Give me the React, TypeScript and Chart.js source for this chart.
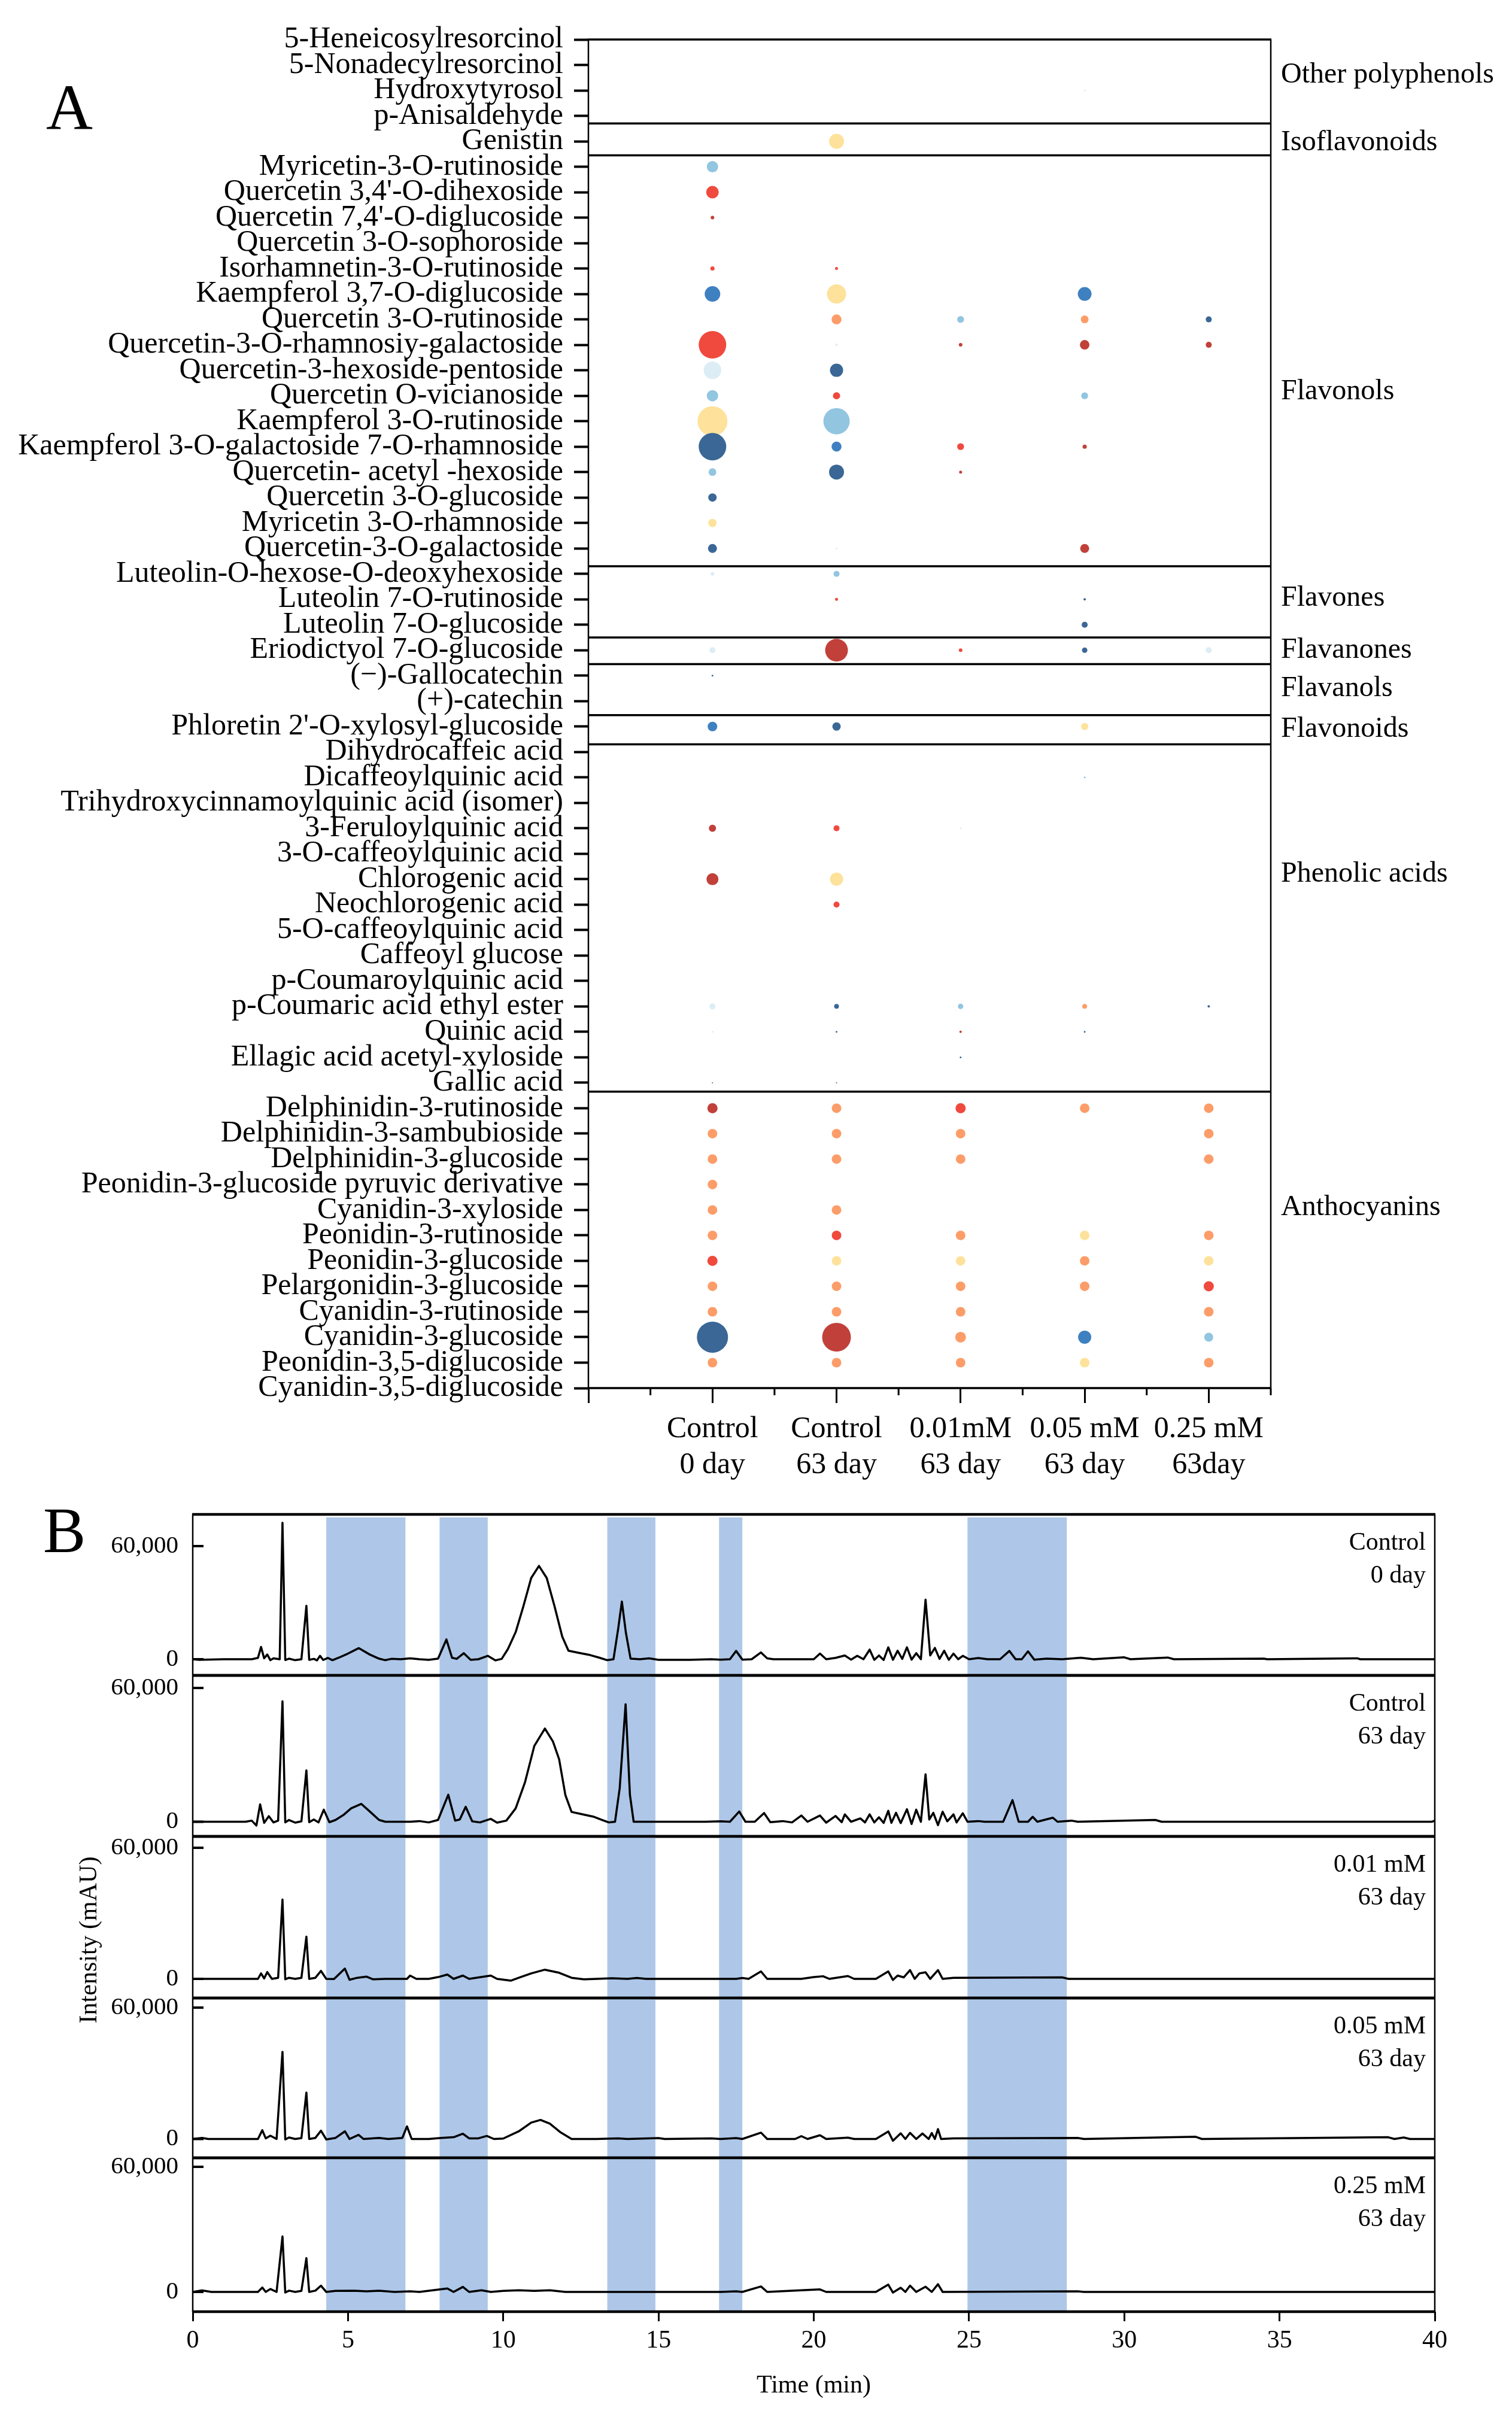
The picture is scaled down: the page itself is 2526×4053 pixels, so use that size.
import React, { useEffect, useRef } from "react";
import { Chart, registerables } from "chart.js";

Chart.register(...registerables);

const FONT = "'Liberation Serif', 'Times New Roman', Times, serif";
Chart.defaults.font.family = FONT;
Chart.defaults.color = "#000";

// ---------------- Panel A data ----------------
const compounds = [
  "5-Heneicosylresorcinol",
  "5-Nonadecylresorcinol",
  "Hydroxytyrosol",
  "p-Anisaldehyde",
  "Genistin",
  "Myricetin-3-O-rutinoside",
  "Quercetin 3,4'-O-dihexoside",
  "Quercetin 7,4'-O-diglucoside",
  "Quercetin 3-O-sophoroside",
  "Isorhamnetin-3-O-rutinoside",
  "Kaempferol 3,7-O-diglucoside",
  "Quercetin 3-O-rutinoside",
  "Quercetin-3-O-rhamnosiy-galactoside",
  "Quercetin-3-hexoside-pentoside",
  "Quercetin O-vicianoside",
  "Kaempferol 3-O-rutinoside",
  "Kaempferol 3-O-galactoside 7-O-rhamnoside",
  "Quercetin- acetyl -hexoside",
  "Quercetin 3-O-glucoside",
  "Myricetin 3-O-rhamnoside",
  "Quercetin-3-O-galactoside",
  "Luteolin-O-hexose-O-deoxyhexoside",
  "Luteolin 7-O-rutinoside",
  "Luteolin 7-O-glucoside",
  "Eriodictyol 7-O-glucoside",
  "(\u2212)-Gallocatechin",
  "(+)-catechin",
  "Phloretin 2'-O-xylosyl-glucoside",
  "Dihydrocaffeic acid",
  "Dicaffeoylquinic acid",
  "Trihydroxycinnamoylquinic acid (isomer)",
  "3-Feruloylquinic acid",
  "3-O-caffeoylquinic acid",
  "Chlorogenic acid",
  "Neochlorogenic acid",
  "5-O-caffeoylquinic acid",
  "Caffeoyl glucose",
  "p-Coumaroylquinic acid",
  "p-Coumaric acid ethyl ester",
  "Quinic acid",
  "Ellagic acid acetyl-xyloside",
  "Gallic acid",
  "Delphinidin-3-rutinoside",
  "Delphinidin-3-sambubioside",
  "Delphinidin-3-glucoside",
  "Peonidin-3-glucoside pyruvic derivative",
  "Cyanidin-3-xyloside",
  "Peonidin-3-rutinoside",
  "Peonidin-3-glucoside",
  "Pelargonidin-3-glucoside",
  "Cyanidin-3-rutinoside",
  "Cyanidin-3-glucoside",
  "Peonidin-3,5-diglucoside",
  "Cyanidin-3,5-diglucoside",
];

const treatmentLabels = [
  ["Control", "0 day"],
  ["Control", "63 day"],
  ["0.01mM", "63 day"],
  ["0.05 mM", "63 day"],
  ["0.25 mM", "63day"],
];
const treatmentPositions = [2, 4, 6, 8, 10];

// bubble size (radius units) per compound, per treatment
const sizeControl0 = [0,0,0,0,0, 9.5,10.5,3,0,3.5, 13,0,23,14.7,9.5, 25,23,6.4,7,7, 7.5,3,0,0,5, 1.5,0,8,0,0, 0,6,0,10,0, 0,0,0,5,1.5, 0,1,8.5,8,8, 8,8,8,8.5,8, 8,26,8,0];
const sizeControl63 = [0,0,0,0,12.5, 0,0,0,0,2.5, 16,8.3,2,11,6, 22,8.3,12.5,0,0, 1.5,5,2.5,0,19, 0,0,7,0,0, 0,5,0,11,5, 0,0,0,4,1.5, 0,1,8,8,8, 0,8,8,8,8, 8,24,8,0];
const size001 = [0,0,0,0,0, 0,0,0,0,0, 0,5.7,3,0,0, 0,5.7,2.5,0,0, 0,0,0,0,3, 0,0,0,0,0, 0,1.5,0,0,0, 0,0,0,4.5,2, 1.5,0,8.5,8,8, 0,0,8,8,8, 8,9,8,0];
const size005 = [0,0,1.5,0,0, 0,0,0,0,0, 11.5,6.5,8,0,5.7, 0,3.5,0,0,0, 7.5,0,2,5,4.5, 0,0,6,0,1.5, 0,0,0,0,0, 0,0,0,4,1.5, 0,0,8,0,0, 0,0,8,8,8, 0,11,8,0];
const size025 = [0,0,0,0,0, 0,0,0,0,0, 0,5,5,0,0, 0,0,0,0,0, 0,0,0,0,5, 0,0,0,0,0, 0,0,0,0,0, 0,0,0,2,0, 0,0,8,8,8, 0,0,8,8,8.5, 8,7.5,8,0];

// colour level per compound (1 = low/blue ... 8 = high/red)
const levelControl0 = [0,0,0,0,0, 3,7,8,0,7, 2,0,7,4,3, 5,1,3,1,5, 1,4,0,0,4, 1,0,2,0,0, 0,8,0,8,0, 0,0,0,4,4, 0,1,8,6,6, 6,6,6,7,6, 6,1,6,0];
const levelControl63 = [0,0,0,0,5, 0,0,0,0,7, 5,6,4,1,7, 3,2,1,0,0, 4,3,7,0,8, 0,0,1,0,0, 0,7,0,5,7, 0,0,0,1,1, 0,1,6,6,6, 0,6,7,5,6, 6,8,6,0];
const level001 = [0,0,0,0,0, 0,0,0,0,0, 0,3,8,0,0, 0,7,8,0,0, 0,0,0,0,7, 0,0,0,0,0, 0,4,0,0,0, 0,0,0,3,8, 1,0,7,6,6, 0,0,6,5,6, 6,6,6,0];
const level005 = [0,0,4,0,0, 0,0,0,0,0, 2,6,8,0,3, 0,8,0,0,0, 8,0,1,1,1, 0,0,5,0,3, 0,0,0,0,0, 0,0,0,6,1, 0,0,6,0,0, 0,0,5,6,6, 0,2,5,0];
const level025 = [0,0,0,0,0, 0,0,0,0,0, 0,1,8,0,0, 0,0,0,0,0, 0,0,0,0,4, 0,0,0,0,0, 0,0,0,0,0, 0,0,0,1,0, 0,0,6,6,6, 0,0,6,5,7, 6,3,6,0];

const groupNames = ["Other polyphenols", "Isoflavonoids", "Flavonols", "Flavones", "Flavanones", "Flavanols", "Flavonoids", "Phenolic acids", "Anthocyanins"];
const groupLabelRows = [1.4, 4.05, 13.85, 21.95, 24.0, 25.5, 27.1, 32.8, 45.9];
const groupBreaks = [3.3, 4.55, 20.7, 23.5, 24.55, 26.55, 27.7, 41.35];

const levelPalette = ["rgba(0,0,0,0)", "#3a6795", "#3f80c0", "#92c5e0", "#dcedf5", "#fee29b", "#fc9d69", "#f0493e", "#c1403a"];

// ---------------- Panel B data ----------------
const highlightRanges = [[4.3, 6.85], [7.95, 9.5], [13.35, 14.9], [16.95, 17.7], [24.95, 28.15]];
const sampleNames = [
  ["Control", "0 day"],
  ["Control", "63 day"],
  ["0.01 mM", "63 day"],
  ["0.05 mM", "63 day"],
  ["0.25 mM", "63 day"],
];

const traceControl0: [number, number][] = [
  [0,0],[0.2,-300],[1.0,0],[1.9,0],[2.1,700],[2.2,6500],[2.3,500],[2.4,2500],[2.5,-500],[2.6,500],[2.8,0],[2.89,72400],[2.98,-400],[3.1,300],[3.3,-500],[3.5,0],[3.66,28300],[3.75,-300],[3.9,200],[4.0,-600],[4.1,1800],[4.2,-400],[4.35,700],[4.5,-500],[4.7,800],[5.0,3000],[5.35,5900],[5.7,2500],[6.0,300],[6.2,-500],[6.4,200],[6.7,0],[7.0,500],[7.3,0],[7.6,-300],[7.9,300],[8.17,10500],[8.35,800],[8.5,200],[8.73,3200],[8.95,-300],[9.2,0],[9.5,1800],[9.75,-600],[9.95,200],[10.15,5400],[10.4,14400],[10.65,28200],[10.9,43100],[11.15,49500],[11.4,43100],[11.65,28200],[11.9,12000],[12.1,4500],[12.4,3500],[12.8,2200],[13.1,800],[13.35,-500],[13.55,0],[13.7,16000],[13.82,30600],[13.95,14000],[14.1,300],[14.4,0],[14.7,500],[15.0,-300],[16.0,-300],[16.7,0],[17.0,-200],[17.3,0],[17.5,4400],[17.7,-200],[18.0,0],[18.3,3600],[18.5,500],[18.7,0],[20.0,0],[20.2,3000],[20.4,0],[20.7,700],[21.0,2000],[21.2,-200],[21.4,1800],[21.6,0],[21.8,5100],[21.95,-300],[22.1,2000],[22.25,-400],[22.4,6300],[22.55,-300],[22.7,4500],[22.85,200],[23.0,6300],[23.15,-200],[23.3,3200],[23.45,0],[23.6,31600],[23.75,2000],[23.9,6000],[24.05,200],[24.2,4500],[24.35,-300],[24.5,3000],[24.65,0],[24.8,1800],[25.0,0],[25.3,600],[25.6,0],[26.0,0],[26.3,4400],[26.5,0],[26.7,0],[26.9,4200],[27.1,-200],[27.5,300],[28.0,0],[28.6,800],[29.0,0],[30.0,1000],[30.2,0],[31.4,900],[31.6,0],[34.5,300],[34.6,0],[37.5,500],[37.6,0],[40,0],
];

const traceControl63: [number, number][] = [
  [0,0],[1.7,0],[1.9,500],[2.05,-1700],[2.17,7800],[2.3,-500],[2.45,2500],[2.6,-300],[2.75,500],[2.89,54000],[2.98,-300],[3.1,800],[3.3,-400],[3.5,200],[3.66,23000],[3.75,-200],[3.9,1000],[4.05,-300],[4.22,5400],[4.4,-200],[4.6,800],[4.85,3000],[5.1,6000],[5.43,8000],[5.75,4000],[6.0,800],[6.2,0],[7.0,0],[7.3,300],[7.6,-300],[7.9,800],[8.23,12100],[8.45,500],[8.6,1000],[8.79,6700],[9.0,200],[9.25,-300],[9.6,1300],[9.8,-400],[10.1,500],[10.4,6000],[10.7,17700],[11.0,34000],[11.34,41800],[11.6,36000],[11.8,28000],[12.0,12000],[12.2,4400],[12.5,3500],[12.9,2300],[13.2,700],[13.4,-300],[13.6,0],[13.75,15000],[13.94,52700],[14.08,12000],[14.2,0],[16.5,0],[17.0,200],[17.3,0],[17.6,4600],[17.8,0],[18.1,0],[18.4,3900],[18.6,-200],[19.0,300],[19.3,-300],[19.6,2800],[19.8,0],[20.2,2800],[20.4,-400],[20.7,2600],[20.9,-200],[21.0,3300],[21.2,0],[21.5,1500],[21.65,-300],[21.8,3300],[21.95,-300],[22.1,2000],[22.25,-500],[22.4,4900],[22.5,-500],[22.65,4000],[22.8,-600],[23.0,5600],[23.15,-1000],[23.3,5400],[23.45,0],[23.6,21300],[23.72,1000],[23.85,4000],[24.0,-1500],[24.15,4500],[24.3,200],[24.5,3300],[24.6,-300],[24.8,3800],[24.95,0],[25.3,300],[25.5,0],[26.1,0],[26.4,9700],[26.6,0],[26.9,0],[27.05,2200],[27.2,0],[27.7,1800],[27.85,0],[28.3,500],[28.5,0],[31.0,800],[31.2,0],[39.9,0],[40,400],
];

const trace001: [number, number][] = [
  [0,0],[2.1,0],[2.2,2500],[2.3,200],[2.4,3100],[2.55,0],[2.75,500],[2.89,36300],[2.98,-200],[3.1,500],[3.3,0],[3.5,500],[3.66,19300],[3.75,0],[3.95,500],[4.13,3650],[4.3,0],[4.55,-100],[4.9,4700],[5.05,-400],[5.3,500],[5.6,1000],[5.8,-200],[6.2,0],[6.9,0],[7.0,1500],[7.2,0],[7.6,0],[7.9,800],[8.2,2000],[8.4,0],[8.7,1500],[8.9,0],[9.6,1500],[9.8,0],[10.25,-800],[10.5,500],[10.9,2500],[11.34,4200],[11.8,2800],[12.2,500],[12.6,-200],[13.0,0],[13.5,300],[14.0,0],[14.3,400],[14.6,0],[17.5,0],[17.7,400],[17.9,0],[18.3,3400],[18.5,0],[19.6,0],[20.0,800],[20.3,1200],[20.5,0],[21.1,1300],[21.3,0],[22.0,0],[22.4,3400],[22.55,-500],[22.7,1500],[22.9,700],[23.1,4000],[23.25,0],[23.4,2500],[23.6,3000],[23.75,0],[24.0,4000],[24.15,0],[24.5,500],[28.0,700],[28.2,0],[40,0],
];

const trace005: [number, number][] = [
  [0,0],[0.3,500],[0.5,0],[2.1,0],[2.24,4000],[2.35,300],[2.5,1500],[2.7,0],[2.89,39800],[2.98,-200],[3.1,700],[3.3,0],[3.5,400],[3.66,21200],[3.75,0],[3.95,500],[4.13,3800],[4.3,-200],[4.6,500],[4.9,3500],[5.05,0],[5.34,1900],[5.5,0],[6.0,500],[6.3,0],[6.75,500],[6.9,5750],[7.05,0],[7.6,0],[8.0,500],[8.4,800],[8.7,2400],[8.9,300],[9.2,300],[9.47,1400],[9.7,0],[10.0,200],[10.5,3500],[10.9,7500],[11.2,8700],[11.5,7000],[11.85,3000],[12.2,0],[13.0,0],[13.7,300],[14.0,0],[15.0,400],[15.2,0],[16.7,300],[17.0,0],[17.5,400],[17.7,0],[18.3,2900],[18.5,0],[19.4,0],[19.6,1300],[19.8,0],[20.2,1700],[20.4,0],[21.1,600],[21.3,0],[22.0,0],[22.4,3450],[22.55,-800],[22.8,2600],[22.95,0],[23.1,2800],[23.3,0],[23.5,2500],[23.7,0],[23.8,2700],[23.9,0],[24.0,4500],[24.1,0],[24.5,300],[28.5,500],[28.7,0],[32.3,1000],[32.5,0],[38.5,800],[38.7,0],[39.0,700],[39.2,0],[40,0],
];

const trace025: [number, number][] = [
  [0,0],[0.3,700],[0.6,0],[2.1,0],[2.24,2100],[2.35,0],[2.5,1400],[2.7,0],[2.89,26600],[2.98,-300],[3.1,600],[3.3,0],[3.5,500],[3.66,16200],[3.75,0],[3.95,600],[4.13,3000],[4.3,0],[4.6,500],[5.2,600],[5.6,300],[6.0,600],[6.5,0],[7.0,300],[7.3,0],[8.2,1660],[8.4,0],[8.7,2400],[8.9,0],[9.3,800],[9.6,0],[10.0,500],[10.5,800],[11.0,500],[11.5,800],[12.0,0],[17.0,0],[17.5,300],[17.7,0],[18.3,2600],[18.5,0],[20.2,1200],[20.4,0],[22.0,0],[22.4,3500],[22.55,-300],[22.8,2000],[22.95,0],[23.1,3000],[23.3,0],[23.6,2500],[23.8,0],[24.0,3700],[24.15,0],[28.5,300],[28.7,0],[40,0],
];

const traces = [traceControl0, traceControl63, trace001, trace005, trace025];

// ---------------- layout (page pixels) ----------------
const PAGE_W = 2526;
const PAGE_H = 4053;
const A_H = 2480;
const B_TOP = 2480;
const B_H = PAGE_H - B_TOP;
const chromPanels = [
  { top: 2530, bottom: 2799, min: -8571, max: 76825 },
  { top: 2799, bottom: 3068, min: -6577, max: 65638 },
  { top: 3068, bottom: 3338, min: -8767, max: 65205 },
  { top: 3338, bottom: 3605, min: -8610, max: 64374 },
  { top: 3605, bottom: 3862, min: -9474, max: 64306 },
];
const X_AXIS_B_H = 100;

function line(ctx: CanvasRenderingContext2D, x0: number, y0: number, x1: number, y1: number, w: number) {
  ctx.lineWidth = w;
  ctx.beginPath();
  ctx.moveTo(x0, y0);
  ctx.lineTo(x1, y1);
  ctx.stroke();
}

function bubbleDataset(sizes: number[], levels: number[], xPos: number) {
  const data: { x: number; y: number; r: number }[] = [];
  const bg: string[] = [];
  sizes.forEach((s, i) => {
    if (s > 0) {
      data.push({ x: xPos, y: i, r: s });
      bg.push(levelPalette[levels[i]]);
    }
  });
  return { data, backgroundColor: bg, borderWidth: 0, hoverRadius: 0, hoverBorderWidth: 0 };
}

const panelAPlugin = {
  id: "panelA",
  afterDatasetsDraw(chart: any) {
    const { ctx, chartArea, scales } = chart;
    const { left, right, top, bottom } = chartArea;
    const y = scales.y;
    const x = scales.x;
    ctx.save();
    ctx.strokeStyle = "#000";
    ctx.lineCap = "butt";
    groupBreaks.forEach((v) => {
      const py = y.getPixelForValue(v);
      line(ctx, left, py, right, py, 3.5);
    });
    line(ctx, left - 1, top, right + 1, top, 3.5);
    line(ctx, left - 1, bottom, right + 1, bottom, 3.5);
    line(ctx, left, top, left, bottom, 2.5);
    line(ctx, right, top, right, bottom, 2.5);
    // minor x ticks
    for (let v = 1; v <= 11; v += 2) {
      const px = x.getPixelForValue(v);
      line(ctx, px, bottom, px, bottom + 12, 3);
    }
    ctx.fillStyle = "#000";
    ctx.font = `48px ${FONT}`;
    ctx.textAlign = "left";
    ctx.textBaseline = "middle";
    groupNames.forEach((n, i) => {
      ctx.fillText(n, right + 17, y.getPixelForValue(groupLabelRows[i]));
    });
    ctx.font = `108px ${FONT}`;
    ctx.textBaseline = "alphabetic";
    ctx.fillText("A", 77, 216);
    ctx.restore();
  },
};

function BubblePanel() {
  const ref = useRef<HTMLCanvasElement>(null);
  useEffect(() => {
    const cols = [
      [sizeControl0, levelControl0],
      [sizeControl63, levelControl63],
      [size001, level001],
      [size005, level005],
      [size025, level025],
    ];
    const chart = new Chart(ref.current as HTMLCanvasElement, {
      type: "bubble",
      data: {
        datasets: cols.map((c, k) => bubbleDataset(c[0], c[1], treatmentPositions[k])) as any,
      },
      options: {
        animation: false,
        responsive: false,
        events: [],
        layout: { padding: { left: 0, right: PAGE_W - 2123, top: 66, bottom: 0 } },
        plugins: { legend: { display: false }, tooltip: { enabled: false } },
        scales: {
          x: {
            type: "linear",
            min: 0,
            max: 11,
            afterBuildTicks: (s: any) => {
              s.ticks = Array.from({ length: 12 }, (_, i) => ({ value: i }));
            },
            afterFit: (s: any) => {
              s.height = A_H - 2319;
            },
            ticks: {
              autoSkip: false,
              maxRotation: 0,
              minRotation: 0,
              padding: 14,
              color: "#000",
              font: { family: FONT, size: 50, lineHeight: 1.2 },
              callback: (v: any) => {
                const k = treatmentPositions.indexOf(Number(v));
                return k >= 0 ? treatmentLabels[k] : "";
              },
            },
            grid: {
              display: true,
              drawOnChartArea: false,
              drawTicks: true,
              tickLength: 25,
              tickWidth: 3,
              tickColor: (c: any) => (c.tick && c.tick.value % 2 === 0 ? "#000" : "rgba(0,0,0,0)"),
            },
            border: { display: false },
          },
          y: {
            type: "linear",
            reverse: true,
            min: 0,
            max: compounds.length - 1,
            afterBuildTicks: (s: any) => {
              s.ticks = compounds.map((_, i) => ({ value: i }));
            },
            afterFit: (s: any) => {
              s.width = 983;
            },
            ticks: {
              autoSkip: false,
              padding: 18,
              color: "#000",
              font: { family: FONT, size: 50 },
              callback: (v: any) => compounds[Number(v)] ?? "",
            },
            grid: {
              display: true,
              drawOnChartArea: false,
              drawTicks: true,
              tickLength: 24,
              tickWidth: 4,
              tickColor: "#000",
            },
            border: { display: false },
          },
        },
      } as any,
      plugins: [panelAPlugin],
    });
    return () => chart.destroy();
  }, []);
  return (
    <canvas
      ref={ref}
      width={PAGE_W}
      height={A_H}
      style={{ position: "absolute", left: 0, top: 0, width: PAGE_W, height: A_H }}
    />
  );
}

function makeChromPlugin(index: number) {
  const isLast = index === chromPanels.length - 1;
  return {
    id: "chrom" + index,
    beforeDatasetsDraw(chart: any) {
      const { ctx, chartArea, scales } = chart;
      const { top, bottom } = chartArea;
      const x = scales.x;
      ctx.save();
      ctx.fillStyle = "#aec7e8";
      const y0 = index === 0 ? top + 5 : top;
      highlightRanges.forEach(([a, b]) => {
        const x0 = x.getPixelForValue(a);
        const x1 = x.getPixelForValue(b);
        ctx.fillRect(x0, y0, x1 - x0, bottom - y0);
      });
      ctx.restore();
    },
    afterDatasetsDraw(chart: any) {
      const { ctx, chartArea, scales } = chart;
      const { left, right, top, bottom } = chartArea;
      const y = scales.y;
      const x = scales.x;
      ctx.save();
      ctx.strokeStyle = "#000";
      line(ctx, left - 1, top, right + 1, top, 4.5);
      line(ctx, left - 1, bottom, right + 1, bottom, 4.5);
      line(ctx, left, top, left, bottom, 2.5);
      line(ctx, right, top, right, bottom, 2.5);
      [0, 60000].forEach((v) => {
        const py = y.getPixelForValue(v);
        line(ctx, left, py, left + 18, py, 4);
      });
      ctx.fillStyle = "#000";
      ctx.font = `42px ${FONT}`;
      ctx.textAlign = "right";
      ctx.textBaseline = "middle";
      ctx.fillText(sampleNames[index][0], right - 15, top + 48);
      ctx.fillText(sampleNames[index][1], right - 15, top + 103);
      if (isLast) {
        ctx.textAlign = "center";
        ctx.fillText("Time (min)", x.getPixelForValue(20), 3986 - B_TOP);
        ctx.save();
        ctx.translate(150, 3241 - B_TOP);
        ctx.rotate(-Math.PI / 2);
        ctx.fillText("Intensity (mAU)", 0, 0);
        ctx.restore();
        ctx.font = `107px ${FONT}`;
        ctx.textAlign = "left";
        ctx.textBaseline = "alphabetic";
        ctx.fillText("B", 72, 2593 - B_TOP);
      }
      ctx.restore();
    },
  };
}

function ChromPanel({ index }: { index: number }) {
  const ref = useRef<HTMLCanvasElement>(null);
  useEffect(() => {
    const p = chromPanels[index];
    const isLast = index === chromPanels.length - 1;
    const chart = new Chart(ref.current as HTMLCanvasElement, {
      type: "line",
      data: {
        datasets: [
          {
            data: traces[index].map(([t, v]) => ({ x: t, y: v })),
            borderColor: "#000",
            borderWidth: 3.5,
            borderJoinStyle: "round",
            pointRadius: 0,
            tension: 0,
            fill: false,
          },
        ],
      },
      options: {
        animation: false,
        responsive: false,
        events: [],
        layout: {
          padding: {
            left: 0,
            right: PAGE_W - 2397,
            top: p.top - B_TOP,
            bottom: isLast ? PAGE_H - p.bottom - X_AXIS_B_H : PAGE_H - p.bottom,
          },
        },
        plugins: { legend: { display: false }, tooltip: { enabled: false } },
        scales: {
          x: {
            type: "linear",
            min: 0,
            max: 40,
            display: isLast,
            afterFit: (s: any) => {
              s.height = isLast ? X_AXIS_B_H : 0;
            },
            ticks: {
              stepSize: 5,
              autoSkip: false,
              maxRotation: 0,
              padding: 8,
              color: "#000",
              font: { family: FONT, size: 42, lineHeight: 1.2 },
            },
            grid: {
              display: true,
              drawOnChartArea: false,
              drawTicks: true,
              tickLength: 16,
              tickWidth: 3,
              tickColor: "#000",
            },
            border: { display: false },
          },
          y: {
            type: "linear",
            min: p.min,
            max: p.max,
            afterBuildTicks: (s: any) => {
              s.ticks = [{ value: 0 }, { value: 60000 }];
            },
            afterFit: (s: any) => {
              s.width = 322;
            },
            ticks: {
              padding: 24,
              color: "#000",
              font: { family: FONT, size: 41 },
              callback: (v: any) => (Number(v) === 60000 ? "60,000" : "0"),
            },
            grid: { display: false, drawTicks: false },
            border: { display: false },
          },
        },
      } as any,
      plugins: [makeChromPlugin(index)],
    });
    return () => chart.destroy();
  }, [index]);
  return (
    <canvas
      ref={ref}
      width={PAGE_W}
      height={B_H}
      style={{ position: "absolute", left: 0, top: B_TOP, width: PAGE_W, height: B_H }}
    />
  );
}

export default function App() {
  return (
    <div
      style={{
        position: "absolute",
        left: 0,
        top: 0,
        width: PAGE_W,
        height: PAGE_H,
        background: "#fff",
        overflow: "hidden",
      }}
    >
      <BubblePanel />
      {chromPanels.map((_, i) => (
        <ChromPanel key={i} index={i} />
      ))}
    </div>
  );
}
